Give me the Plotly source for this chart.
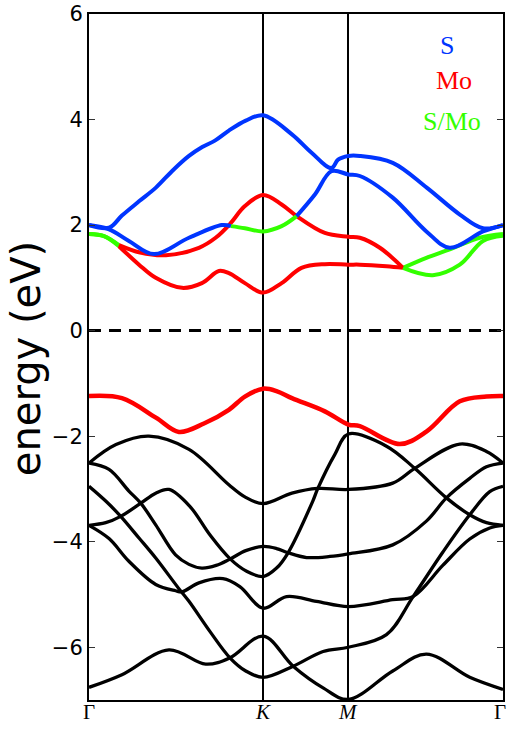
import plotly.graph_objects as go

# ---------------- axes / labels ----------------
kpoint_pos = [0.0, 1.0, 1.489, 2.377]          # Γ, K, M, Γ  (units of |ΓK|)
kpoint_labels = ["Γ", "<i>K</i>", "<i>M</i>", "Γ"]
ytick_vals = [-6, -4, -2, 0, 2, 4, 6]
ytick_text = ["−6", "−4", "−2", "0", "2", "4", "6"]
e_range = [-7, 6]
e_fermi = 0.0
y_title = "energy (eV)"

proj_names = ["S", "Mo", "S/Mo"]
proj_colors = ["#0035ff", "#ff0000", "#33ff00"]

# ---------------- conduction bands (k, E) ----------------
c4_k = [0, 0.115, 0.189, 0.287, 0.384, 0.479, 0.574, 0.650, 0.723, 0.803, 0.900, 1.0, 1.165, 1.278, 1.392, 1.430, 1.489, 1.555, 1.744, 1.939, 2.129, 2.262, 2.377]
c4_e = [2.00, 1.95, 2.18, 2.45, 2.71, 3.03, 3.31, 3.48, 3.60, 3.79, 3.98, 4.08, 3.72, 3.37, 3.08, 3.24, 3.31, 3.31, 3.18, 2.71, 2.20, 1.94, 2.00]
c4_proj = [(0, 2.377, "S")]

c3_k = [0, 0.115, 0.229, 0.373, 0.574, 0.763, 0.815, 0.895, 1.0, 1.106, 1.192, 1.297, 1.392, 1.489, 1.555, 1.744, 1.937, 2.071, 2.262, 2.377]
c3_e = [2.00, 1.92, 1.70, 1.45, 1.76, 2.00, 1.98, 1.94, 1.88, 1.98, 2.17, 2.58, 3.02, 2.96, 2.93, 2.52, 1.88, 1.57, 1.88, 2.00]
c3_proj = [(0, 0.815, "S"), (0.815, 1.192, "S/Mo"), (1.192, 2.377, "S")]

c2_k = [0, 0.086, 0.172, 0.293, 0.442, 0.631, 0.727, 0.809, 0.895, 1.0, 1.106, 1.192, 1.354, 1.489, 1.555, 1.670, 1.803, 1.974, 2.129, 2.262, 2.377]
c2_e = [1.83, 1.79, 1.62, 1.48, 1.43, 1.57, 1.76, 2.02, 2.36, 2.57, 2.39, 2.17, 1.85, 1.78, 1.76, 1.57, 1.19, 1.05, 1.25, 1.70, 1.80]
c2_proj = [(0, 0.172, "S/Mo"), (0.172, 1.803, "Mo"), (1.803, 2.377, "S/Mo")]

c1_k = [0, 0.086, 0.172, 0.287, 0.383, 0.534, 0.648, 0.746, 0.803, 0.895, 1.0, 1.106, 1.220, 1.354, 1.489, 1.555, 1.708, 1.803, 1.937, 2.071, 2.243, 2.377]
c1_e = [1.83, 1.79, 1.60, 1.25, 1.00, 0.81, 0.90, 1.13, 1.09, 0.90, 0.72, 0.90, 1.19, 1.26, 1.25, 1.25, 1.22, 1.19, 1.38, 1.54, 1.76, 1.83]
c1_proj = [(0, 0.172, "S/Mo"), (0.172, 1.803, "Mo"), (1.803, 2.377, "S/Mo")]

# ---------------- valence bands (k, E) ----------------
v1_k = [0, 0.189, 0.384, 0.516, 0.660, 0.803, 0.895, 1.0, 1.080, 1.165, 1.354, 1.489, 1.555, 1.784, 1.939, 2.129, 2.282, 2.377]
v1_e = [-1.24, -1.28, -1.65, -1.92, -1.76, -1.50, -1.25, -1.10, -1.15, -1.28, -1.53, -1.78, -1.81, -2.15, -1.91, -1.34, -1.25, -1.24]

v2_k = [0, 0.155, 0.344, 0.574, 0.803, 0.895, 1.0, 1.165, 1.314, 1.489, 1.744, 1.870, 2.129, 2.282, 2.377]
v2_e = [-2.51, -2.16, -2.00, -2.25, -2.92, -3.15, -3.28, -3.08, -2.99, -3.01, -2.89, -2.61, -2.15, -2.29, -2.51]

vp_k = [0, 0.096, 0.182, 0.297, 0.383, 0.459, 0.579, 0.694, 0.809, 0.905, 1.0, 1.077, 1.143, 1.285, 1.314, 1.411, 1.489, 1.708, 1.870, 2.052, 2.186, 2.282, 2.377]
vp_e = [-3.69, -3.64, -3.52, -3.27, -3.08, -3.01, -3.33, -3.87, -4.32, -4.56, -4.66, -4.50, -4.21, -3.23, -2.99, -2.35, -1.96, -2.19, -2.61, -3.17, -3.49, -3.64, -3.69]

vq_k = [0, 0.115, 0.229, 0.297, 0.383, 0.497, 0.574, 0.648, 0.730, 0.809, 0.900, 1.0, 1.077, 1.143, 1.249, 1.383, 1.489, 1.744, 1.937, 2.052, 2.186, 2.282, 2.377]
vq_e = [-2.51, -2.63, -3.04, -3.27, -3.68, -4.25, -4.43, -4.50, -4.45, -4.33, -4.17, -4.09, -4.13, -4.21, -4.30, -4.28, -4.23, -4.06, -3.61, -3.17, -2.80, -2.58, -2.51]

vs1_k = [0, 0.096, 0.182, 0.287, 0.383, 0.516, 0.574, 0.694, 0.809, 0.900, 1.0, 1.172, 1.344, 1.489, 1.708, 1.861, 2.031, 2.186, 2.301, 2.377]
vs1_e = [-2.95, -3.23, -3.52, -3.93, -4.31, -4.89, -5.13, -5.70, -6.20, -6.45, -6.57, -6.36, -6.08, -6.00, -5.76, -5.04, -4.20, -3.49, -3.05, -2.95]

vs2_k = [0, 0.115, 0.229, 0.383, 0.497, 0.534, 0.631, 0.769, 0.866, 1.0, 1.134, 1.306, 1.489, 1.744, 1.861, 2.031, 2.186, 2.301, 2.377]
vs2_e = [-3.69, -3.94, -4.37, -4.81, -4.93, -4.95, -4.78, -4.70, -4.85, -5.26, -5.04, -5.13, -5.23, -5.10, -5.04, -4.45, -3.95, -3.74, -3.69]

vr_k = [0, 0.189, 0.459, 0.670, 0.809, 1.0, 1.172, 1.344, 1.489, 1.744, 1.937, 2.186, 2.377]
vr_e = [-6.76, -6.52, -6.05, -6.32, -6.20, -5.79, -6.36, -6.77, -6.99, -6.45, -6.13, -6.57, -6.80]

valence_black = [(vr_k, vr_e), (vs2_k, vs2_e), (vs1_k, vs1_e), (vq_k, vq_e), (vp_k, vp_e), (v2_k, v2_e)]
conduction = [(c1_k, c1_e, c1_proj), (c2_k, c2_e, c2_proj), (c3_k, c3_e, c3_proj), (c4_k, c4_e, c4_proj)]

color_of = dict(zip(proj_names, proj_colors))

fig = go.Figure()

for bk, be in valence_black:
    fig.add_trace(go.Scatter(x=bk, y=be, mode="lines",
                             line=dict(color="#000000", width=3.3, shape="spline", smoothing=1.0),
                             hoverinfo="skip"))

fig.add_trace(go.Scatter(x=v1_k, y=v1_e, mode="lines",
                         line=dict(color=color_of["Mo"], width=4.5, shape="spline", smoothing=1.0),
                         hoverinfo="skip"))

for bk, be, proj in conduction:
    for k0, k1, name in proj:
        xs = [k for k in bk if k0 - 1e-9 <= k <= k1 + 1e-9]
        ys = [e for k, e in zip(bk, be) if k0 - 1e-9 <= k <= k1 + 1e-9]
        fig.add_trace(go.Scatter(x=xs, y=ys, mode="lines",
                                 line=dict(color=color_of[name], width=4, shape="spline", smoothing=1.0),
                                 hoverinfo="skip"))

# Fermi level
fig.add_trace(go.Scatter(x=[kpoint_pos[0], kpoint_pos[-1]], y=[e_fermi, e_fermi], mode="lines",
                         line=dict(color="black", width=3, dash="12px,8px"), hoverinfo="skip"))

# projection labels
leg_x = [0.864, 0.881, 0.877]
leg_y = [0.954, 0.903, 0.843]
for name, col, lx, ly in zip(proj_names, proj_colors, leg_x, leg_y):
    fig.add_annotation(x=lx, y=ly, xref="paper", yref="paper", text=name, showarrow=False,
                       font=dict(family="Liberation Serif", size=26, color=col),
                       xanchor="center", yanchor="middle")

# k-point labels under the axis (last one nudged so it stays inside the page)
label_shift = [0, 0, 0, -3]
for kp, lab, sh in zip(kpoint_pos, kpoint_labels, label_shift):
    fig.add_annotation(x=kp, y=0, xref="x", yref="paper", text=lab, showarrow=False,
                       font=dict(family="Liberation Serif", size=21, color="black"),
                       xanchor="center", yanchor="top", yshift=2, xshift=sh)

# y-axis title
fig.add_annotation(x=-0.152, y=0.497, xref="paper", yref="paper", text=y_title, showarrow=False,
                   textangle=-90, font=dict(family="DejaVu Sans", size=40, color="black"),
                   xanchor="center", yanchor="middle")

fig.update_layout(
    width=507, height=729,
    margin=dict(l=89, r=4, t=14, b=29, autoexpand=False),
    plot_bgcolor="white", paper_bgcolor="white",
    showlegend=False,
)
fig.update_xaxes(
    range=[kpoint_pos[0], kpoint_pos[-1]],
    tickmode="array", tickvals=kpoint_pos, ticktext=kpoint_labels,
    showticklabels=False,
    showgrid=True, gridcolor="black", gridwidth=1.5,
    showline=True, linecolor="black", linewidth=2, mirror=True,
    ticks="", zeroline=False, automargin=False,
)
fig.update_yaxes(
    range=e_range,
    tickmode="array", tickvals=ytick_vals, ticktext=ytick_text,
    ticks="inside", ticklen=6, tickwidth=1, tickcolor="#333333",
    showline=True, linecolor="black", linewidth=2, mirror="ticks",
    showgrid=False, zeroline=False, automargin=False,
    tickfont=dict(family="DejaVu Sans", size=21, color="black"),
)

fig.write_html("out.html",
               config={"displayModeBar": False},
               post_script="document.body.style.margin='0';document.body.style.overflow='hidden';")
